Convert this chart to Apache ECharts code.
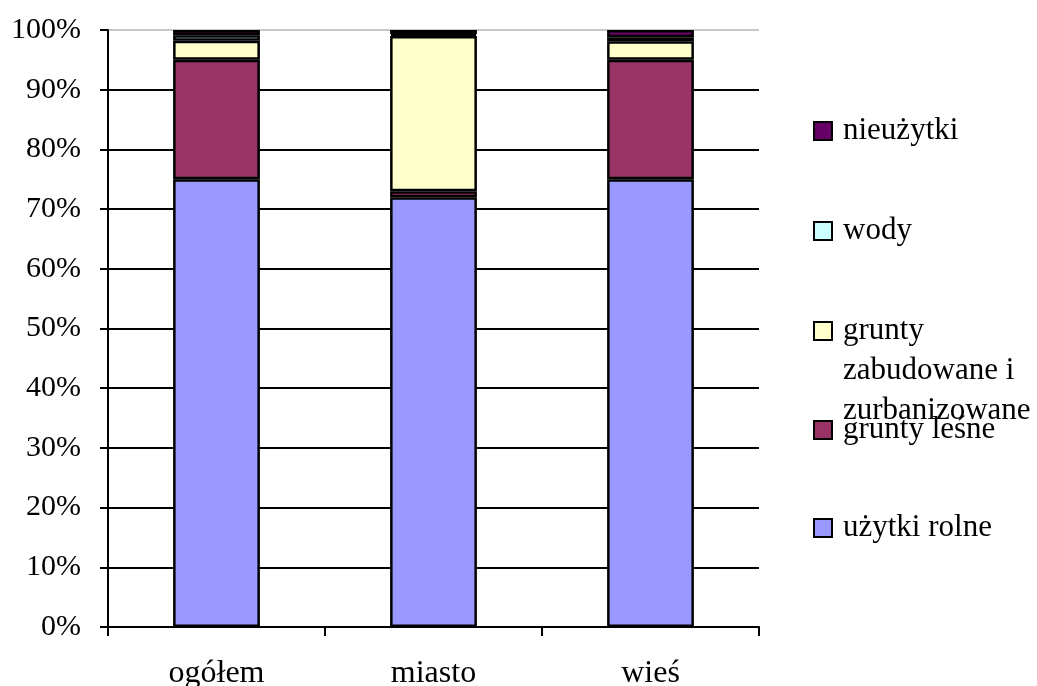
<!DOCTYPE html>
<html>
<head>
<meta charset="utf-8">
<script src="https://cdn.jsdelivr.net/npm/echarts@6/dist/echarts.min.js"></script>
<style>html,body{margin:0;padding:0;background:#fff}#c{width:1037px;height:686px}</style>
</head>
<body>
<div id="c"></div>
<script>
const categories = ['ogółem', 'miasto', 'wieś'];
const seriesNames = ['użytki rolne', 'grunty leśne', 'grunty zabudowane i zurbanizowane', 'wody', 'nieużytki'];
const uzytkiRolne = [75.0, 72.0, 75.0];
const gruntyLesne = [20.0, 1.0, 20.0];
const gruntyZabudowane = [3.2, 26.0, 3.1];
const wody = [0.9, 0.3, 0.7];
const nieuzytki = [0.9, 0.7, 1.2];
const yTicks = ['0%','10%','20%','30%','40%','50%','60%','70%','80%','90%','100%'];

const colors = ['#9999FF', '#993366', '#FFFFCC', '#CCFFFF', '#660066'];
const values = [uzytkiRolne, gruntyLesne, gruntyZabudowane, wody, nieuzytki];
const FONT = 'Liberation Serif';

const chart = echarts.init(document.getElementById('c'));

const legendCenters = [528, 430, 331, 231, 131];
const legends = seriesNames.map((n, i) => {
  const multi = i === 2;
  return {
    data: [n],
    left: 813,
    top: multi ? legendCenters[i] - 100 : legendCenters[i] - 20,
    padding: 0,
    itemWidth: 18,
    itemHeight: 18,
    itemGap: 0,
    icon: 'rect',
    selectedMode: false,
    itemStyle: { borderColor: '#000', borderWidth: 2 },
    formatter: multi ? () => '{e| }\n{e| }\n{t|grunty}\n{t|zabudowane i}\n{t|zurbanizowane}' : undefined,
    textStyle: {
      fontFamily: FONT, fontSize: 31, color: '#000', lineHeight: 40,
      padding: [0, 0, 0, 6],
      rich: {
        e: { fontFamily: FONT, fontSize: 31, lineHeight: 40 },
        t: { fontFamily: FONT, fontSize: 31, lineHeight: 40, color: '#000' }
      }
    }
  };
});

const splitColors = [];
for (let i = 0; i < 10; i++) splitColors.push('#000');
splitColors.push('#c8c8c8');

chart.setOption({
  animation: false,
  backgroundColor: '#fff',
  legend: legends,
  grid: { left: 108, right: 278, top: 30, bottom: 59, containLabel: false, outerBoundsMode: 'none' },
  xAxis: {
    type: 'category',
    data: categories,
    boundaryGap: true,
    axisLine: { lineStyle: { color: '#000', width: 2 } },
    axisTick: { show: true, length: 9, lineStyle: { color: '#000', width: 2 } },
    axisLabel: { fontFamily: FONT, fontSize: 32, color: '#000', margin: 31 }
  },
  yAxis: {
    type: 'value',
    min: 0, max: 100, interval: 10,
    axisLine: { show: true, lineStyle: { color: '#000', width: 2 } },
    axisTick: { show: true, length: 8, lineStyle: { color: '#000', width: 2 } },
    axisLabel: {
      fontFamily: FONT, fontSize: 30, color: '#000', margin: 27,
      formatter: (v) => yTicks[Math.round(v / 10)]
    },
    splitLine: { show: true, lineStyle: { color: splitColors, width: 2 } }
  },
  series: seriesNames.map((n, i) => ({
    name: n,
    type: 'bar',
    stack: 'total',
    barWidth: '40%',
    data: values[i],
    itemStyle: { color: colors[i], borderColor: '#000', borderWidth: 2.5 }
  }))
});
</script>
</body>
</html>
